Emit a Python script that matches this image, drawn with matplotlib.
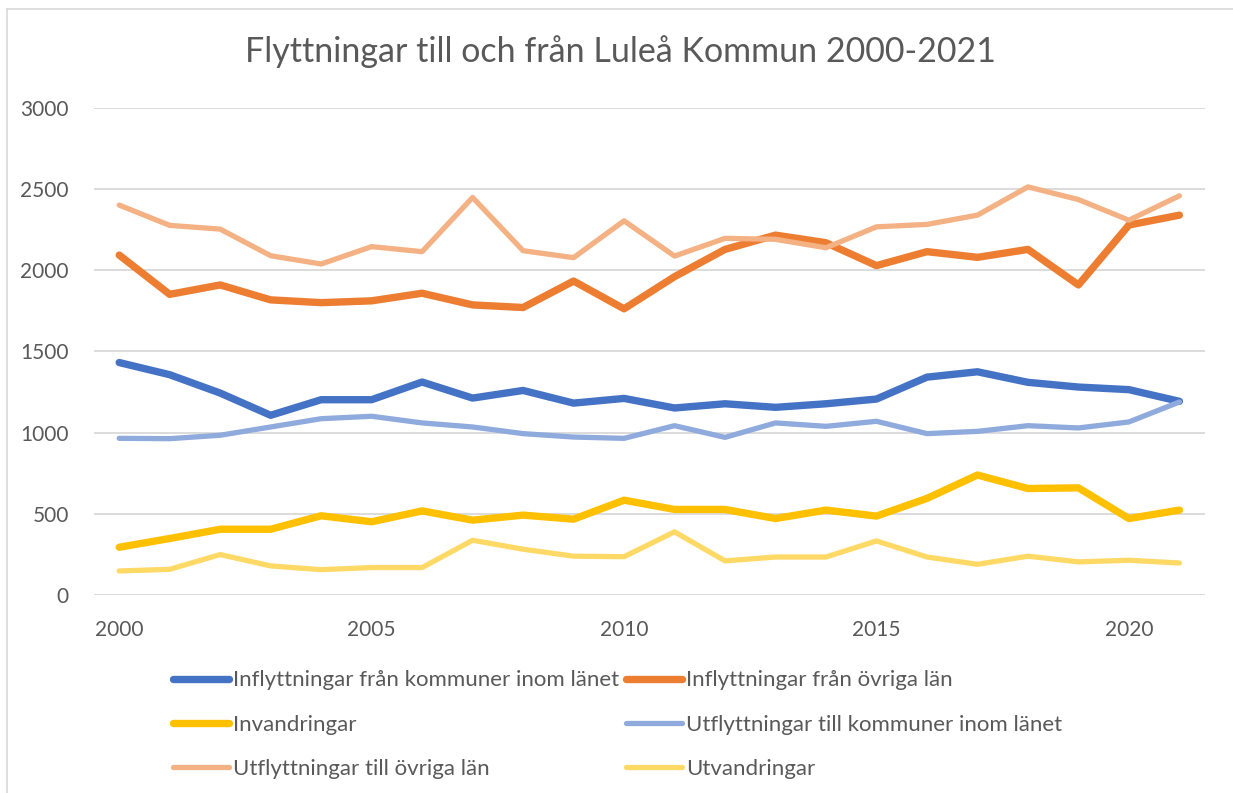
import matplotlib
matplotlib.use("Agg")
import matplotlib.pyplot as plt
from matplotlib.lines import Line2D

plt.rcParams['font.family'] = ['Lato', 'DejaVu Sans']

years = list(range(2000, 2022))

inflytt_lanet = [1432, 1357, 1244, 1107, 1203, 1203, 1312, 1213, 1260, 1182, 1211,
                 1152, 1178, 1156, 1178, 1207, 1342, 1375, 1310, 1281, 1265, 1193]
inflytt_ovriga = [2094, 1852, 1910, 1818, 1801, 1812, 1859, 1787, 1771, 1934, 1763,
                  1961, 2129, 2217, 2170, 2029, 2115, 2080, 2129, 1910, 2279, 2340]
invandringar = [294, 348, 405, 405, 488, 451, 518, 461, 492, 467, 584,
                527, 527, 471, 523, 486, 595, 739, 656, 660, 471, 523]
utflytt_lanet = [965, 963, 984, 1035, 1086, 1101, 1060, 1035, 994, 973, 965,
                 1043, 971, 1060, 1039, 1070, 994, 1008, 1043, 1029, 1066, 1189]
utflytt_ovriga = [2402, 2277, 2254, 2090, 2039, 2146, 2115, 2449, 2121, 2078, 2305,
                  2088, 2197, 2191, 2139, 2268, 2283, 2340, 2514, 2436, 2309, 2459]
utvandringar = [148, 158, 249, 179, 156, 169, 169, 337, 282, 239, 236,
                389, 210, 234, 234, 333, 234, 189, 239, 204, 214, 197]

labels = ["Inflyttningar från kommuner inom länet", "Inflyttningar från övriga län",
          "Invandringar", "Utflyttningar till kommuner inom länet",
          "Utflyttningar till övriga län", "Utvandringar"]
series = [inflytt_lanet, inflytt_ovriga, invandringar, utflytt_lanet, utflytt_ovriga, utvandringar]
colors = ["#4472C4", "#ED7D31", "#FFC000", "#8FAADC", "#F4B183", "#FFD966"]
widths = [5.3, 5.3, 5.3, 3.8, 3.8, 3.8]

fig = plt.figure(figsize=(12.33, 7.93), dpi=100)
ax = fig.add_axes([0.0762, 0.2497, 0.9008, 0.6141])

handles = []
for vals, lab, c, lw in zip(series, labels, colors, widths):
    h, = ax.plot(years, vals, color=c, lw=lw, label=lab,
                 solid_capstyle='round', solid_joinstyle='round')
    handles.append(h)

ax.set_xlim(1999.5, 2021.5)
ax.set_ylim(0, 3000)
ax.set_yticks(range(0, 3001, 500))
ax.set_xticks(range(2000, 2021, 5))
ax.grid(axis='y', color='#D9D9D9', lw=1.3)
ax.set_axisbelow(True)
for s in ax.spines.values():
    s.set_visible(False)
ax.tick_params(length=0, labelsize=15, colors='#595959')
ax.tick_params(axis='x', pad=18)
ax.tick_params(axis='y', pad=18)

fig.text(0.503, 0.935, "Flyttningar till och från Luleå Kommun 2000-2021",
         ha='center', va='center', fontsize=24.5, color='#595959')

order = [0, 2, 4, 1, 3, 5]
fig.legend([handles[i] for i in order], [labels[i] for i in order], ncol=2,
           loc='center', bbox_to_anchor=(0.501, 0.086), frameon=False,
           fontsize=16, labelcolor='#595959', handlelength=2.5, handletextpad=0.2,
           columnspacing=0.3, labelspacing=1.1)

# chart area border (top and left edges visible)
x0, y0 = 7 / 1233, 1 - 9 / 793
fig.add_artist(Line2D([x0, 1], [y0, y0], transform=fig.transFigure, color='#D9D9D9', lw=1.2))
fig.add_artist(Line2D([x0, x0], [0, y0], transform=fig.transFigure, color='#D9D9D9', lw=1.2))

fig.savefig("out.png", dpi=100)
